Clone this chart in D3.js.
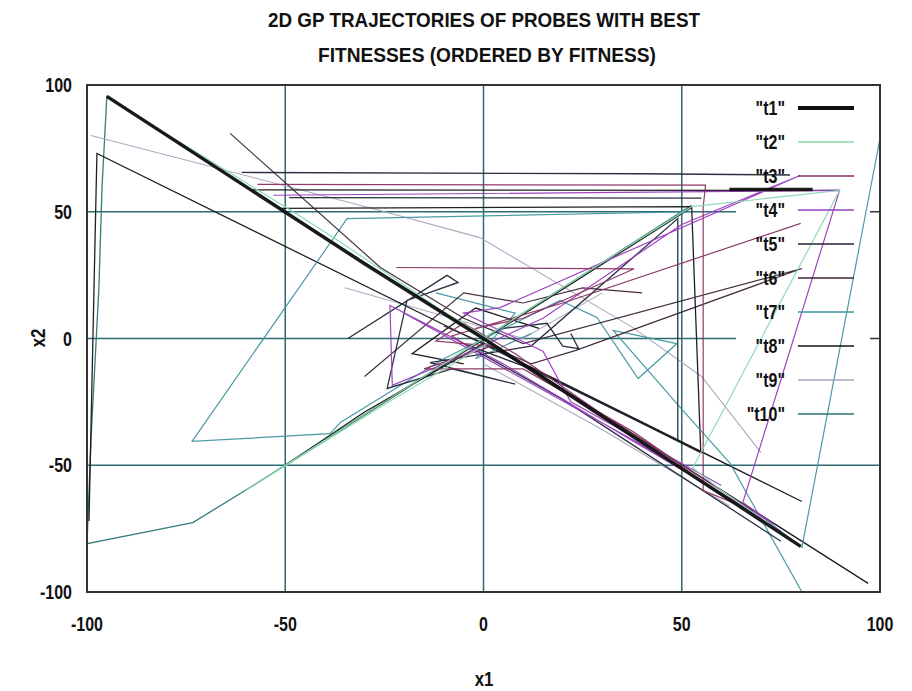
<!DOCTYPE html>
<html>
<head>
<meta charset="utf-8">
<script src="https://cdn.jsdelivr.net/npm/d3@7"></script>
<style>
  body { margin: 0; background: #fff; }
  svg { display: block; }
  text { font-family: "Liberation Sans Narrow", "Arial Narrow", "Liberation Sans", Arial, sans-serif; font-weight: bold; fill: #111; }
</style>
</head>
<body>
<div id="chart"></div>
<script>
// Axis ticks
const xTicks = [-100, -50, 0, 50, 100];
const yTicks = [-100, -50, 0, 50, 100];
const gridValues = [-50, 0, 50];

// Series names and colours
const seriesNames = ['"t1"', '"t2"', '"t3"', '"t4"', '"t5"', '"t6"', '"t7"', '"t8"', '"t9"', '"t10"'];
const seriesColors = ['#111111', '#86d8ae', '#8a2e62', '#9a3cbf', '#1e2535', '#3b2436', '#3f95a0', '#141414', '#aaa4be', '#2b7577'];
const seriesWidths = [3.5, 1.2, 1.2, 1.2, 1.3, 1.2, 1.2, 1.3, 1.1, 1.3];

// Trajectories (x1, x2), null = break
const t1 = [[83, 58.8], [62, 58.8], null,
            [-95, 95.5], [-30, 29.5], [0, 0], [80, -82]];
const t2 = [[-88, 88.5], [-60, 61.5], [-47, 49], [-37, 39], [-10, 10.5], [2, -1], [-25, -26], [-60, -60],
            [-40, -40], [0, 0], [30, 30], [52.5, 52], [89.8, 58.4], [52.8, -51], [60, -60], [72, -73]];
const t3 = [[-57, 60.8], [56, 60.5], [55.4, 51.7], [55.4, -60], [68, -68], [30, -30], [8, -6], [-5, 6],
            [-12, -1], [2, -3], [-15, -12], [10, -12], [38, -37], [50, -50], null,
            [80, 45.4], [20, 14], [-8, 1], [-4, -3], null,
            [-22, 28], [38, 27.5], [10, 8], [-2, 4]];
const t4 = [[-53, 56.5], [89.8, 58.4], [65.4, -64.7], [73, -73], [35, -38], [5, -10], [-23.6, 13], [-23, -18.5],
            [-10, -10], [15, 8], [50, 45], [79.8, 64.3], [4.2, 12.2], [-5, 10], [15, -5], [22, -25], [60, -58], null,
            [-20, 10], [10, -16], [40, -42], [75, -76]];
const t5 = [[-61, 65.5], [40, 65], [77.3, 64.5], null,
            [-34.2, 0], [-9.2, 24.9], [-6.4, 22.1], [-19.3, 15], [-24.3, -19.7], [-8, -12], [8, -18],
            [-13.5, -9.5], [12, -3], [49, 47.3], [49, -40.2], [11.7, -11.8], [-5, -2], [20, -24], [75, -80], null,
            [-49, 55.6], [55, 55.4], null,
            [5, 4], [16, 6], [20, -3], [24, -4], [22, 2]];
const t6 = [[-63.9, 80.9], [-26, 28], [-5, 8], [10, -2], [80.3, 27.6], [23.3, -4.7], [12, -10], [-10, 5], null,
            [-30, -15], [-5, 18], [10, 14], [25, 20], [40, 18]];
const t7 = [[52.5, 50], [-34.4, 47.3], [-73.5, -40.6], [-38.7, -37.5], [-36, -33], [-10, -8], [19.3, 15],
            [28.6, 8.3], [39, -15.8], [48.8, -2], [32.7, 3.2], [49.6, -27.2], [62.2, -49.3], [80.3, -100], null,
            [100, 78.9], [80.3, -82.4], [70, -70], null,
            [-12, 18], [8, 10], [-2, -8], [12, 2]];
const t8 = [[-99.5, -72], [-97.5, 73], [80.3, -64.3], [40, -33], [0, -2], [-30, -29], [-50, -50],
            [52.5, 51.7], [54.8, -45], [10, -10], [97, -96.6], null,
            [-58.8, 58.6], [89.8, 58.4], null,
            [-51.3, 51.3], [52.5, 52], null,
            [-5, -10], [-18, -6], [-2, 12], [14, 4]];
const t9 = [[-99, 80.1], [-26.1, 50.5], [-0.9, 39.8], [37.7, 4.3], [55, -15], [70, -45], null,
            [0, -10], [30, -36], [62, -66], null,
            [-35, 20], [10, 0], [30, 18]];
const t10 = [[52.5, 52.5], [-58.9, -58.8], [-73.3, -72.6], [-100, -80.9], [-99, -40], [-97, 20],
             [-96.2, 60], [-95, 95.5], [-40, 40], [0, 0], [40, -41]];

const seriesData = [t1, t2, t3, t4, t5, t6, t7, t8, t9, t10];

const width = 912, height = 691;
const svg = d3.select('#chart').append('svg')
    .attr('width', width)
    .attr('height', height);

const x = d3.scaleLinear().domain([-100, 100]).range([87, 880]);
const y = d3.scaleLinear().domain([-100, 100]).range([592, 85]);

// narrow bold text, squeezed horizontally
function narrowText(g, px, py, anchor, size, str) {
    return g.append('text')
        .attr('transform', `translate(${px},${py}) scale(0.8,1)`)
        .attr('text-anchor', anchor)
        .style('font-size', size + 'px')
        .text(str);
}

// Title
svg.append('text')
    .attr('x', 484).attr('y', 27)
    .attr('text-anchor', 'middle')
    .attr('textLength', 432).attr('lengthAdjust', 'spacingAndGlyphs')
    .style('font-size', '20px')
    .text('2D GP TRAJECTORIES OF PROBES WITH BEST');
svg.append('text')
    .attr('x', 487).attr('y', 62)
    .attr('text-anchor', 'middle')
    .attr('textLength', 338).attr('lengthAdjust', 'spacingAndGlyphs')
    .style('font-size', '20px')
    .text('FITNESSES (ORDERED BY FITNESS)');

// Grid
const gridColor = '#2e6b73';
svg.append('g').selectAll('line.gx')
    .data(gridValues).enter().append('line')
    .attr('x1', d => x(d)).attr('x2', d => x(d))
    .attr('y1', y(100)).attr('y2', y(-100))
    .attr('stroke', gridColor).attr('stroke-width', 1.5);
svg.append('g').selectAll('line.gy')
    .data(gridValues).enter().append('line')
    .attr('x1', x(-100)).attr('x2', x(100))
    .attr('y1', d => y(d)).attr('y2', d => y(d))
    .attr('stroke', gridColor).attr('stroke-width', 1.5);

// Legend box hides the grid behind it
svg.append('rect')
    .attr('x', 736).attr('y', 88)
    .attr('width', 143).attr('height', 338)
    .attr('fill', '#fff');

// short ticks on right frame where grid is hidden
svg.append('g').selectAll('line')
    .data([50, 0]).enter().append('line')
    .attr('x1', x(100) - 10).attr('x2', x(100))
    .attr('y1', d => y(d)).attr('y2', d => y(d))
    .attr('stroke', '#333').attr('stroke-width', 1.5);

// Trajectories
const line = d3.line()
    .defined(d => d !== null)
    .x(d => x(d[0]))
    .y(d => y(d[1]));

const order = [9, 8, 7, 6, 5, 4, 3, 2, 1, 0];
svg.append('g').selectAll('path')
    .data(order).enter().append('path')
    .attr('d', i => line(seriesData[i]))
    .attr('fill', 'none')
    .attr('stroke', i => seriesColors[i])
    .attr('stroke-width', i => seriesWidths[i])
    .attr('stroke-linejoin', 'miter')
    .attr('opacity', 0.95);

// Frame
svg.append('rect')
    .attr('x', x(-100)).attr('y', y(100))
    .attr('width', x(100) - x(-100)).attr('height', y(-100) - y(100))
    .attr('fill', 'none').attr('stroke', '#333').attr('stroke-width', 2);

// Legend
const legendG = svg.append('g');
seriesNames.forEach((name, i) => {
    const ly = 108 + i * 34;
    narrowText(legendG, 785, ly + 7, 'end', 20, name);
    legendG.append('line')
        .attr('x1', 798).attr('x2', 854)
        .attr('y1', ly).attr('y2', ly)
        .attr('stroke', seriesColors[i])
        .attr('stroke-width', i === 0 ? 4 : 1.5);
});

// Tick labels
const tickG = svg.append('g');
yTicks.forEach(d => narrowText(tickG, 72, y(d) + 7, 'end', 20, d));
xTicks.forEach(d => narrowText(tickG, x(d), 631, 'middle', 20, d));

// Axis titles
narrowText(svg, 484, 686, 'middle', 21, 'x1');
svg.append('text')
    .attr('transform', 'translate(45, 338) rotate(-90) scale(0.8,1)')
    .attr('text-anchor', 'middle')
    .style('font-size', '21px')
    .text('x2');
</script>
</body>
</html>
